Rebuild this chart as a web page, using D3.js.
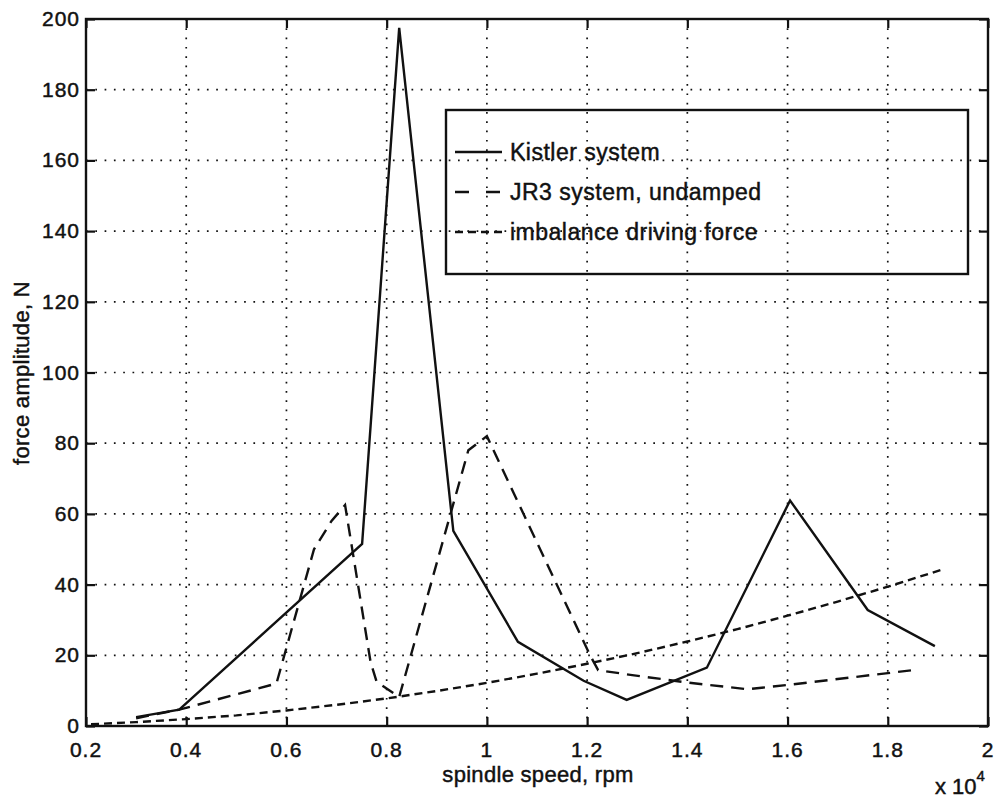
<!DOCTYPE html>
<html>
<head>
<meta charset="utf-8">
<script src="https://cdn.jsdelivr.net/npm/d3@7"></script>
<style>
  html, body { margin: 0; padding: 0; background: #fff; }
  svg text { font-family: "Liberation Sans", Arial, Helvetica, sans-serif; fill: #111; stroke: #111; stroke-width: 0.45px; }
</style>
</head>
<body>
<svg id="chart" width="1000" height="801"></svg>
<script>
// Spindle speed in units of 10^4 rpm, force amplitude in N.
const kistlerSpeed = [0.30, 0.386, 0.751, 0.825, 0.933, 1.062, 1.193, 1.279, 1.439, 1.605, 1.760, 1.894];
const kistlerForce = [2.5, 4.6, 51.5, 197.5, 55.2, 23.8, 12.8, 7.4, 16.5, 63.8, 32.8, 22.6];

const jr3Speed = [0.30, 0.388, 0.58, 0.655, 0.69, 0.717, 0.768, 0.78, 0.825, 0.963, 1.0, 1.206, 1.222, 1.29, 1.40, 1.52, 1.60, 1.85];
const jr3Force = [2.2, 4.7, 12.0, 50.0, 58.0, 62.5, 18.0, 12.5, 8.2, 78.0, 82.0, 20.0, 15.8, 14.4, 12.3, 10.4, 11.6, 15.8];

const imbalanceSpeed = [0.21, 0.3, 0.4, 0.5, 0.6, 0.7, 0.8, 0.9, 1.0, 1.1, 1.2, 1.3, 1.4, 1.5, 1.6, 1.7, 1.8, 1.905];
const imbalanceForce = [0.5, 1.1, 1.95, 3.0, 4.4, 6.0, 7.8, 9.9, 12.2, 14.8, 17.6, 20.6, 23.9, 27.4, 31.2, 35.2, 39.4, 44.1];

const xTicks = [0.2, 0.4, 0.6, 0.8, 1, 1.2, 1.4, 1.6, 1.8, 2];
const yTicks = [0, 20, 40, 60, 80, 100, 120, 140, 160, 180, 200];

const seriesNames = ["Kistler system", "JR3 system, undamped", "imbalance driving force"];

const svg = d3.select("#chart");
const plotL = 86, plotR = 988, plotT = 19, plotB = 726;

const x = d3.scaleLinear().domain([0.2, 2]).range([plotL, plotR]);
const y = d3.scaleLinear().domain([0, 200]).range([plotB, plotT]);

// grid
const grid = svg.append("g").attr("stroke", "#111").attr("stroke-width", 1.7)
  .attr("stroke-dasharray", "1.7,7.6").attr("fill", "none");
grid.selectAll("line.vx").data(xTicks.slice(1, -1)).join("line")
  .attr("x1", d => x(d)).attr("x2", d => x(d)).attr("y1", plotT).attr("y2", plotB);
grid.selectAll("line.hy").data(yTicks.slice(1, -1)).join("line")
  .attr("y1", d => y(d)).attr("y2", d => y(d)).attr("x1", plotL).attr("x2", plotR);

// axes (ticks pointing inward on all four sides)
const tickLen = 9;
const fmt = d => d3.format("~g")(d);
const axB = svg.append("g").attr("transform", `translate(0,${plotB})`)
  .call(d3.axisTop(x).tickValues(xTicks).tickSize(tickLen).tickFormat(""));
const axT = svg.append("g").attr("transform", `translate(0,${plotT})`)
  .call(d3.axisBottom(x).tickValues(xTicks).tickSize(tickLen).tickFormat(""));
const axL = svg.append("g").attr("transform", `translate(${plotL},0)`)
  .call(d3.axisRight(y).tickValues(yTicks).tickSize(tickLen).tickFormat(""));
const axR = svg.append("g").attr("transform", `translate(${plotR},0)`)
  .call(d3.axisLeft(y).tickValues(yTicks).tickSize(tickLen).tickFormat(""));
[axB, axT, axL, axR].forEach(a => {
  a.select(".domain").remove();
  a.selectAll(".tick line").attr("stroke", "#111").attr("stroke-width", 2.2);
});

// tick labels
svg.append("g").selectAll("text").data(xTicks).join("text")
  .attr("x", d => x(d)).attr("y", plotB + 31)
  .attr("text-anchor", "middle").attr("font-size", 21).attr("letter-spacing", 1)
  .text(fmt);
svg.append("g").selectAll("text").data(yTicks).join("text")
  .attr("x", plotL - 6).attr("y", d => y(d) + 7)
  .attr("text-anchor", "end").attr("font-size", 21).attr("letter-spacing", 1)
  .text(fmt);

// frame
svg.append("rect").attr("x", plotL).attr("y", plotT)
  .attr("width", plotR - plotL).attr("height", plotB - plotT)
  .attr("fill", "none").attr("stroke", "#111").attr("stroke-width", 2.4);

// series
const line = d3.line().x(d => x(d[0])).y(d => y(d[1]));
const styles = [
  { dash: null, w: 2.4 },
  { dash: "13,8", w: 2.4 },
  { dash: "8,5", w: 2.4 }
];
const series = [
  d3.zip(kistlerSpeed, kistlerForce),
  d3.zip(jr3Speed, jr3Force),
  d3.zip(imbalanceSpeed, imbalanceForce)
];
series.forEach((pts, i) => {
  svg.append("path").datum(pts)
    .attr("d", line)
    .attr("fill", "none").attr("stroke", "#111")
    .attr("stroke-width", styles[i].w)
    .attr("stroke-linejoin", "miter")
    .attr("stroke-dasharray", styles[i].dash);
});

// legend
const lg = svg.append("g");
lg.append("rect").attr("x", 446).attr("y", 110).attr("width", 522).attr("height", 164)
  .attr("fill", "none").attr("stroke", "#111").attr("stroke-width", 2.4);
seriesNames.forEach((name, i) => {
  const cy = 152 + i * 40;
  lg.append("line").attr("x1", 455).attr("x2", 502).attr("y1", cy).attr("y2", cy)
    .attr("stroke", "#111").attr("stroke-width", 2.4)
    .attr("stroke-dasharray", i === 0 ? null : (i === 1 ? "14,17" : "8,5"));
  lg.append("text").attr("x", 510).attr("y", cy + 8).attr("font-size", 23)
    .attr("letter-spacing", 0.5).text(name);
});

// axis titles
svg.append("text").attr("x", 538).attr("y", 782)
  .attr("text-anchor", "middle").attr("font-size", 22).attr("letter-spacing", 0.3)
  .text("spindle speed, rpm");
svg.append("text").attr("transform", "translate(29,373) rotate(-90)")
  .attr("text-anchor", "middle").attr("font-size", 22).attr("letter-spacing", 0.3)
  .text("force amplitude, N");
const ex = svg.append("text").attr("x", 935).attr("y", 794).attr("font-size", 22);
ex.append("tspan").text("x 10");
ex.append("tspan").attr("dy", -13).attr("font-size", 15).text("4");
</script>
</body>
</html>
